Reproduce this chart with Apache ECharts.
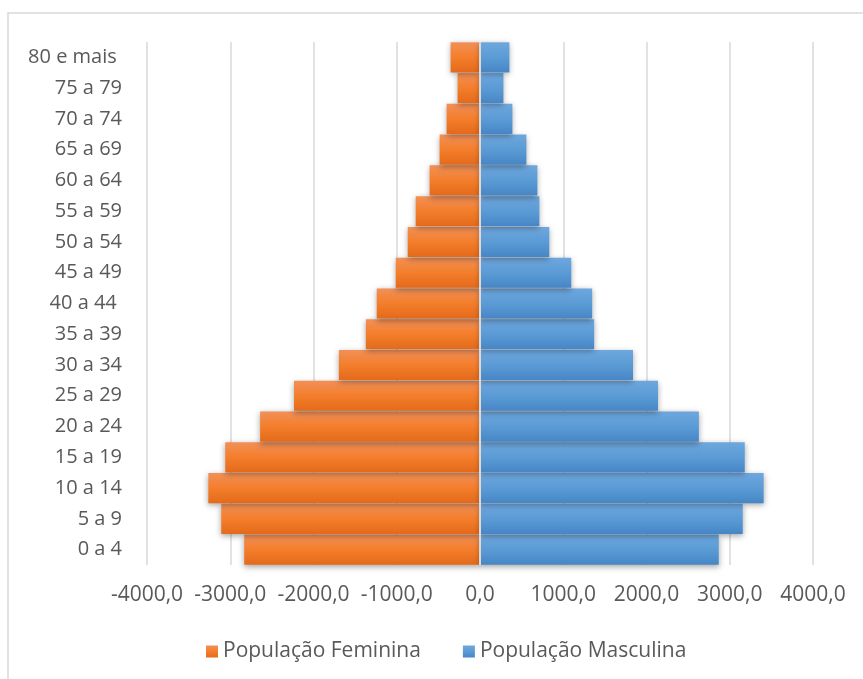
<!DOCTYPE html>
<html>
<head>
<meta charset="utf-8">
<script src="https://cdn.jsdelivr.net/npm/echarts@6/dist/echarts.min.js"></script>
<style>
html,body{margin:0;padding:0;background:#fff;}
#chart{width:863px;height:679px;}
</style>
</head>
<body>
<div id="chart"></div>
<script>
var categories = ['0 a 4','5 a 9','10 a 14','15 a 19','20 a 24','25 a 29','30 a 34','35 a 39','40 a 44 ','45 a 49','50 a 54','55 a 59','60 a 64','65 a 69','70 a 74','75 a 79','80 e mais '];
var feminina = [-2832,-3108,-3263,-3060,-2641,-2234,-1695,-1371,-1240,-1012,-868,-772,-605,-485,-401,-269,-353];
var masculina = [2868,3156,3407,3180,2629,2138,1838,1371,1347,1096,832,713,689,557,389,281,353];
var xTicks = {min:-4000, max:4000, interval:1000};

var chart = echarts.init(document.getElementById('chart'));
var font = 'Open Sans';
function grad(c0,c1,c2){
  return new echarts.graphic.LinearGradient(0,0,0,1,[{offset:0,color:c0},{offset:0.5,color:c1},{offset:1,color:c2}]);
}
chart.setOption({
  animation:false,
  graphic:[{type:'rect',shape:{x:8,y:13,width:900,height:720},style:{fill:'none',stroke:'#d9d9d9',lineWidth:1.5},silent:true}],
  grid:{left:147,right:50,top:42,bottom:114,containLabel:false},
  legend:{
    top:636,left:201,
    itemWidth:12,itemHeight:12,itemGap:42,
    icon:'rect',
    textStyle:{fontFamily:font,fontSize:21,color:'#595959'},
    data:['População Feminina','População Masculina']
  },
  xAxis:{
    type:'value',min:xTicks.min,max:xTicks.max,interval:xTicks.interval,
    axisLine:{show:false},axisTick:{show:false},
    axisLabel:{fontFamily:font,fontSize:21,color:'#595959',margin:20,
      formatter:function(v){return v.toFixed(1).replace('.',',');}},
    splitLine:{show:true,lineStyle:{color:'#d9d9d9',width:1.5}}
  },
  yAxis:{
    type:'category',data:categories,
    axisLine:{show:false},axisTick:{show:false},
    axisLabel:{fontFamily:font,fontSize:20,color:'#595959',margin:25},
    splitLine:{show:false}
  },
  series:[
    {name:'População Feminina',type:'bar',stack:'pop',data:feminina,barCategoryGap:'2%',
     itemStyle:{color:grad('#f19058','#f47e2b','#e36a1a'),shadowBlur:6,shadowOffsetY:2,shadowColor:'rgba(0,0,0,0.35)'}},
    {name:'População Masculina',type:'bar',stack:'pop',data:masculina,barCategoryGap:'2%',
     itemStyle:{color:grad('#6ea7de','#5b9bd5','#4686c6'),shadowBlur:6,shadowOffsetY:2,shadowColor:'rgba(0,0,0,0.35)'},
     markLine:{silent:true,symbol:'none',label:{show:false},lineStyle:{color:'#d9d9d9',width:2,type:'solid'},data:[{xAxis:0}]}}
  ]
});
</script>
</body>
</html>
